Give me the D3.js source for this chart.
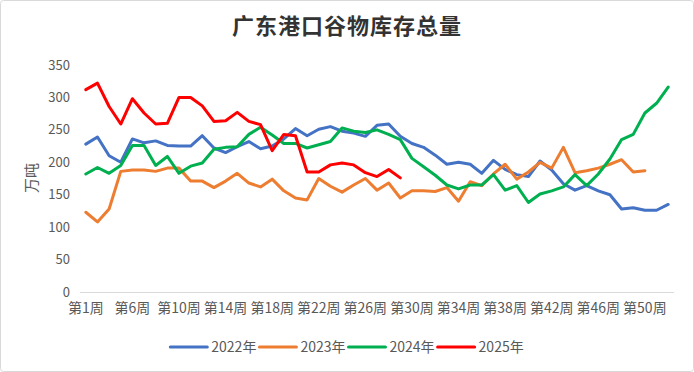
<!DOCTYPE html>
<html>
<head>
<meta charset="utf-8">
<script src="https://cdn.jsdelivr.net/npm/d3@7"></script>
<style>
  html, body { margin: 0; padding: 0; background: #fff; }
  svg text { font-family: "Noto Sans CJK SC", "Noto Sans", sans-serif; }
</style>
</head>
<body>
<div id="chart"></div>
<script>
// categories (week 2 is not in the source table)
var weeks = ["第1周","第3周","第4周","第5周","第6周","第7周","第8周","第9周","第10周","第11周",
  "第12周","第13周","第14周","第15周","第16周","第17周","第18周","第19周","第20周","第21周",
  "第22周","第23周","第24周","第25周","第26周","第27周","第28周","第29周","第30周","第31周",
  "第32周","第33周","第34周","第35周","第36周","第37周","第38周","第39周","第40周","第41周",
  "第42周","第43周","第44周","第45周","第46周","第47周","第48周","第49周","第50周","第51周","第52周"];

var y2022 = [228,239,210,200,236,230,233,226,225,225, 241,222,215,224,232,221,225,236,252,241,
  251,255,248,245,240,257,259,240,229,223, 211,197,200,197,183,203,189,181,178,202,
  188,167,157,164,156,150,128,130,126,126,135];
var y2023 = [123,108,128,186,188,188,186,191,191,171, 171,161,171,183,168,162,174,156,145,142,
  175,163,154,165,175,157,168,145,156,156, 155,161,140,170,164,182,197,174,185,200,
  191,223,184,187,191,197,204,185,187];
var y2024 = [182,192,183,195,226,226,195,209,183,194, 199,220,223,224,243,254,242,229,229,222,
  227,232,253,248,246,250,243,235,206,193, 180,165,159,165,165,181,157,164,138,151,
  156,162,181,164,182,205,235,243,276,291,316];
var y2025 = [312,322,286,259,298,276,259,260,300,300, 287,263,264,277,263,258,218,243,241,185,
  185,196,199,196,184,178,189,176];

var seriesNames = ["2022年","2023年","2024年","2025年"];
var seriesColors = ["#4472C4","#ED7D31","#00B050","#FF0000"];
var yTicks = [0,50,100,150,200,250,300,350];

var series = [y2022, y2023, y2024, y2025].map(function(v, k){
  return { name: seriesNames[k], color: seriesColors[k], values: v };
});

var width = 694, height = 372,
    margin = ({top: 65, right: 20, bottom: 80, left: 80});

var svg = d3.select("#chart").append("svg")
    .attr("width", width)
    .attr("height", height);

svg.append("rect")
    .attr("x", 0.5).attr("y", 0.5)
    .attr("width", width - 1).attr("height", height - 1)
    .attr("rx", 3)
    .attr("fill", "#fff")
    .attr("stroke", "#d9d9d9");

var x = d3.scaleBand()
    .domain(weeks)
    .range([margin.left, width - margin.right]);

var y = d3.scaleLinear()
    .domain([0, 350])
    .range([height - margin.bottom, margin.top]);

var xc = d => x(d) + x.bandwidth() / 2;

// title
svg.append("text")
    .attr("x", 347)
    .attr("y", 34)
    .attr("text-anchor", "middle")
    .attr("font-size", "22px")
    .attr("font-weight", "bold")
    .attr("letter-spacing", "1px")
    .attr("fill", "#333")
    .text("广东港口谷物库存总量");

// y axis labels
svg.append("g")
    .selectAll("text")
    .data(yTicks)
    .join("text")
      .attr("x", 70)
      .attr("y", d => y(d))
      .attr("dy", "0.35em")
      .attr("text-anchor", "end")
      .attr("font-size", "13px")
      .attr("fill", "#595959")
      .text(d => d);

svg.append("text")
    .attr("transform", "translate(32," + 178 + ") rotate(-90)")
    .attr("text-anchor", "middle")
    .attr("dy", "0.35em")
    .attr("font-size", "15px")
    .attr("fill", "#595959")
    .text("万吨");

// x axis
svg.append("line")
    .attr("x1", margin.left).attr("x2", width - margin.right)
    .attr("y1", y(0) + 0.5).attr("y2", y(0) + 0.5)
    .attr("stroke", "#d9d9d9");

svg.append("g")
    .selectAll("text")
    .data(weeks.filter((d, i) => i % 4 === 0))
    .join("text")
      .attr("x", d => xc(d))
      .attr("y", y(0) + 16)
      .attr("dy", "0.35em")
      .attr("text-anchor", "middle")
      .attr("font-size", "14px")
      .attr("fill", "#595959")
      .text(d => d);

// lines
var line = d3.line()
    .x((d, i) => xc(weeks[i]))
    .y(d => y(d));

svg.append("g")
  .selectAll("path")
  .data(series)
  .join("path")
    .attr("fill", "none")
    .attr("stroke", d => d.color)
    .attr("stroke-width", 3)
    .attr("stroke-linejoin", "round")
    .attr("stroke-linecap", "round")
    .attr("d", d => line(d.values));

// legend
var legend = svg.append("g");
var lx = 0;
series.forEach(function(s){
  var g = legend.append("g").attr("transform", "translate(" + lx + ",0)");
  g.append("line")
      .attr("x1", 0).attr("x2", 37)
      .attr("y1", 0).attr("y2", 0)
      .attr("stroke", s.color)
      .attr("stroke-width", 3)
      .attr("stroke-linecap", "round");
  var t = g.append("text")
      .attr("x", 41)
      .attr("dy", "0.35em")
      .attr("font-size", "14px")
      .attr("fill", "#595959")
      .text(s.name);
  lx += 41 + t.node().getComputedTextLength() + 3;
});
lx -= 3;
legend.attr("transform", "translate(" + (347 - lx / 2) + ",347)");
</script>
</body>
</html>
